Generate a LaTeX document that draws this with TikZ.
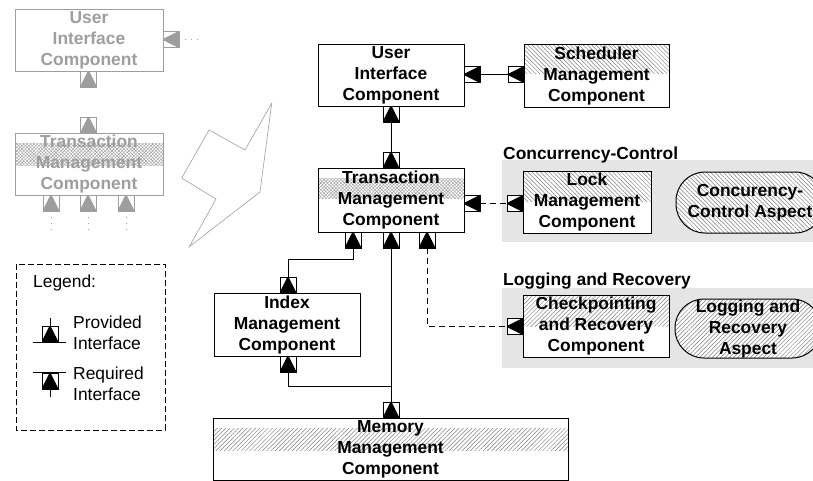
\documentclass[tikz,border=0pt]{standalone}
\usepackage{fontspec}
\setmainfont{Liberation Sans}
\usetikzlibrary{patterns.meta}
\definecolor{faded}{gray}{0.62}
\definecolor{region}{gray}{0.9}
\newcommand\dgfont{\fontsize{17.4}{21}\selectfont}
\tikzset{
  comp/.style={draw, fill=white, line width=1pt, align=center, inner sep=0pt, font=\dgfont\bfseries},
  fcomp/.style={comp, draw=faded, text=faded},
  lbl/.style={inner sep=0pt, font=\dgfont},
  ptcol/.store in=\ptcol, ptcol=black,
  portup/.style={draw, fill=white, line width=0.8pt, inner sep=0pt, minimum size=16pt,
    path picture={\filldraw[\ptcol, line width=1pt] (path picture bounding box.south west) -- (path picture bounding box.south east) -- (path picture bounding box.north) -- cycle;}},
  portleft/.style={draw, fill=white, line width=0.8pt, inner sep=0pt, minimum size=16pt,
    path picture={\filldraw[\ptcol, line width=1pt] (path picture bounding box.north east) -- (path picture bounding box.south east) -- (path picture bounding box.west) -- cycle;}},
  fport/.style={draw=faded, ptcol=faded},
  band/.style n args={3}{path picture={\fill[pattern={Lines[angle=#1,distance=3pt,line width=0.5pt]}, pattern color=gray] ([yshift=-#2pt]path picture bounding box.north west) rectangle ([yshift=-#3pt]path picture bounding box.north east);}},
  xband/.style 2 args={path picture={
    \fill[pattern={Lines[angle=45,distance=2.4pt,line width=0.4pt]}, pattern color=gray!80] ([yshift=-#1pt]path picture bounding box.north west) rectangle ([yshift=-#2pt]path picture bounding box.north east);
    \fill[pattern={Lines[angle=-45,distance=2.4pt,line width=0.4pt]}, pattern color=gray!80] ([yshift=-#1pt]path picture bounding box.north west) rectangle ([yshift=-#2pt]path picture bounding box.north east);}},
  aspect/.style={draw, line width=1pt, align=center, inner sep=0pt, font=\dgfont\bfseries, rounded corners=29pt,
    preaction={fill=white}, pattern={Lines[angle=#1,distance=3pt,line width=0.5pt]}, pattern color=gray},
  conn/.style={line width=0.8pt},
  dconn/.style={line width=0.8pt, dash pattern=on 6pt off 4pt},
  fconn/.style={faded, line width=0.8pt, dash pattern=on 1pt off 5pt}
}
\begin{document}
\begin{tikzpicture}[x=1pt, y=-1pt]
  \useasboundingbox (0,0) rectangle (813,480);
  % aspect regions
  \fill[region] (502,160) rectangle (830,242);
  \fill[region] (502,288) rectangle (830,368);
  \node[lbl, anchor=base west, font=\dgfont\bfseries] (cclbl) at (503,159) {Concurrency-Control};
  \node[lbl, anchor=base west, font=\dgfont\bfseries] (lrlbl) at (503,285) {Logging and Recovery};

  % components
  \node[comp, minimum width=146pt, minimum height=62pt] (ui) at (391,75) {User\\Interface\\Component};
  \node[comp, band={-45}{1}{29}, minimum width=145pt, minimum height=63pt] (sch) at (596.5,75.5) {Scheduler\\Management\\Component};
  \node[comp, xband={10}{30}, minimum width=146pt, minimum height=64pt] (ta) at (391,200) {Transaction\\Management\\Component};
  \node[comp, band={-45}{1}{30}, minimum width=128pt, minimum height=62pt] (lock) at (587,202) {Lock\\Management\\Component};
  \node[comp, band={45}{1}{31}, minimum width=146pt, minimum height=62pt] (ckp) at (596,326) {Checkpointing\\and Recovery\\Component};
  \node[comp, minimum width=146pt, minimum height=63pt] (idx) at (287,324.5) {Index\\Management\\Component};
  \node[comp, band={45}{10}{32}, minimum width=355pt, minimum height=62pt] (mem) at (390.5,449) {Memory\\Management\\Component};
  \node[aspect=-45, minimum width=148pt, minimum height=61pt] (cca) at (750,202.5) {Concurency-\\Control Aspect};
  \node[aspect=45, minimum width=146pt, minimum height=59pt] (lra) at (748,328.5) {Logging and\\Recovery\\Aspect};

  % interfaces
  \node[portleft] (uiR) at (472,74.5) {};
  \node[portleft] (schL) at (516,74.5) {};
  \node[portup] (uiB) at (391,114) {};
  \node[portup] (taT) at (391,160) {};
  \node[portup] (ta1) at (353,240) {};
  \node[portup] (ta2) at (391,240) {};
  \node[portup] (ta3) at (427,240) {};
  \node[portleft] (taR) at (472,203.5) {};
  \node[portleft] (lockL) at (515,203.5) {};
  \node[portleft] (ckpL) at (515,326.5) {};
  \node[portup] (idxT) at (288,285) {};
  \node[portup] (idxB) at (288,364) {};
  \node[portup] (memT) at (391,410) {};

  \draw[conn] (uiR.east) -- (schL.west);
  \draw[conn] (uiB.south) -- (taT.north);
  \draw[dconn] (taR.east) -- (lockL.west);
  \draw[dconn] (ta3.south) |- (ckpL.west);
  \draw[conn] (idxT.north) -- ++(0,-17) -| (ta1.south);
  \draw[conn] (ta2.south) -- (memT.north);
  \draw[conn] (idxB.south) -- ++(0,14) -| (memT.north);

  % faded old design
  \node[fcomp, minimum width=148pt, minimum height=62pt] (fui) at (89,40) {User\\Interface\\Component};
  \node[fcomp, xband={10}{32}, minimum width=148pt, minimum height=62pt] (fta) at (89,164) {Transaction\\Management\\Component};
  \node[portleft, fport] (fuiR) at (171,39.5) {};
  \node[portup, fport] (fuiB) at (88.5,79) {};
  \node[portup, fport] (ftaT) at (88.5,125) {};
  \node[portup, fport] (fta1) at (51,203) {};
  \node[portup, fport] (fta2) at (88,203) {};
  \node[portup, fport] (fta3) at (126,203) {};
  \draw[fconn] (fuiR.east) -- ++(24,0);
  \draw[fconn] (fta1.south) -- ++(0,22);
  \draw[fconn] (fta2.south) -- ++(0,22);
  \draw[fconn] (fta3.south) -- ++(0,22);
  \draw[faded, line width=0.6pt] (271.7,103.3) -- (245,150) -- (209,130) -- (181.7,178)
    -- (216,199) -- (189.3,246.7) -- (260,192) -- cycle;

  % legend
  \draw[line width=0.8pt, dash pattern=on 6pt off 3pt] (16,264) rectangle (165,430);
  \node[lbl, anchor=west] (lgd) at (33,283) {Legend:};
  \node[portup] (lgP) at (50,334) {};
  \draw[conn] (lgP.north) -- ++(0,-8);
  \draw[conn] ([xshift=-9pt]lgP.south west) -- ([xshift=8pt]lgP.south east);
  \node[lbl, anchor=west, align=left] (lgPtxt) at (73,333) {Provided\\Interface};
  \node[portup] (lgR) at (50,381) {};
  \draw[conn] ([xshift=-9pt]lgR.north west) -- ([xshift=8pt]lgR.north east);
  \draw[conn] (lgR.south) -- ++(0,8);
  \node[lbl, anchor=west, align=left] (lgRtxt) at (73,384) {Required\\Interface};
\end{tikzpicture}
\end{document}
